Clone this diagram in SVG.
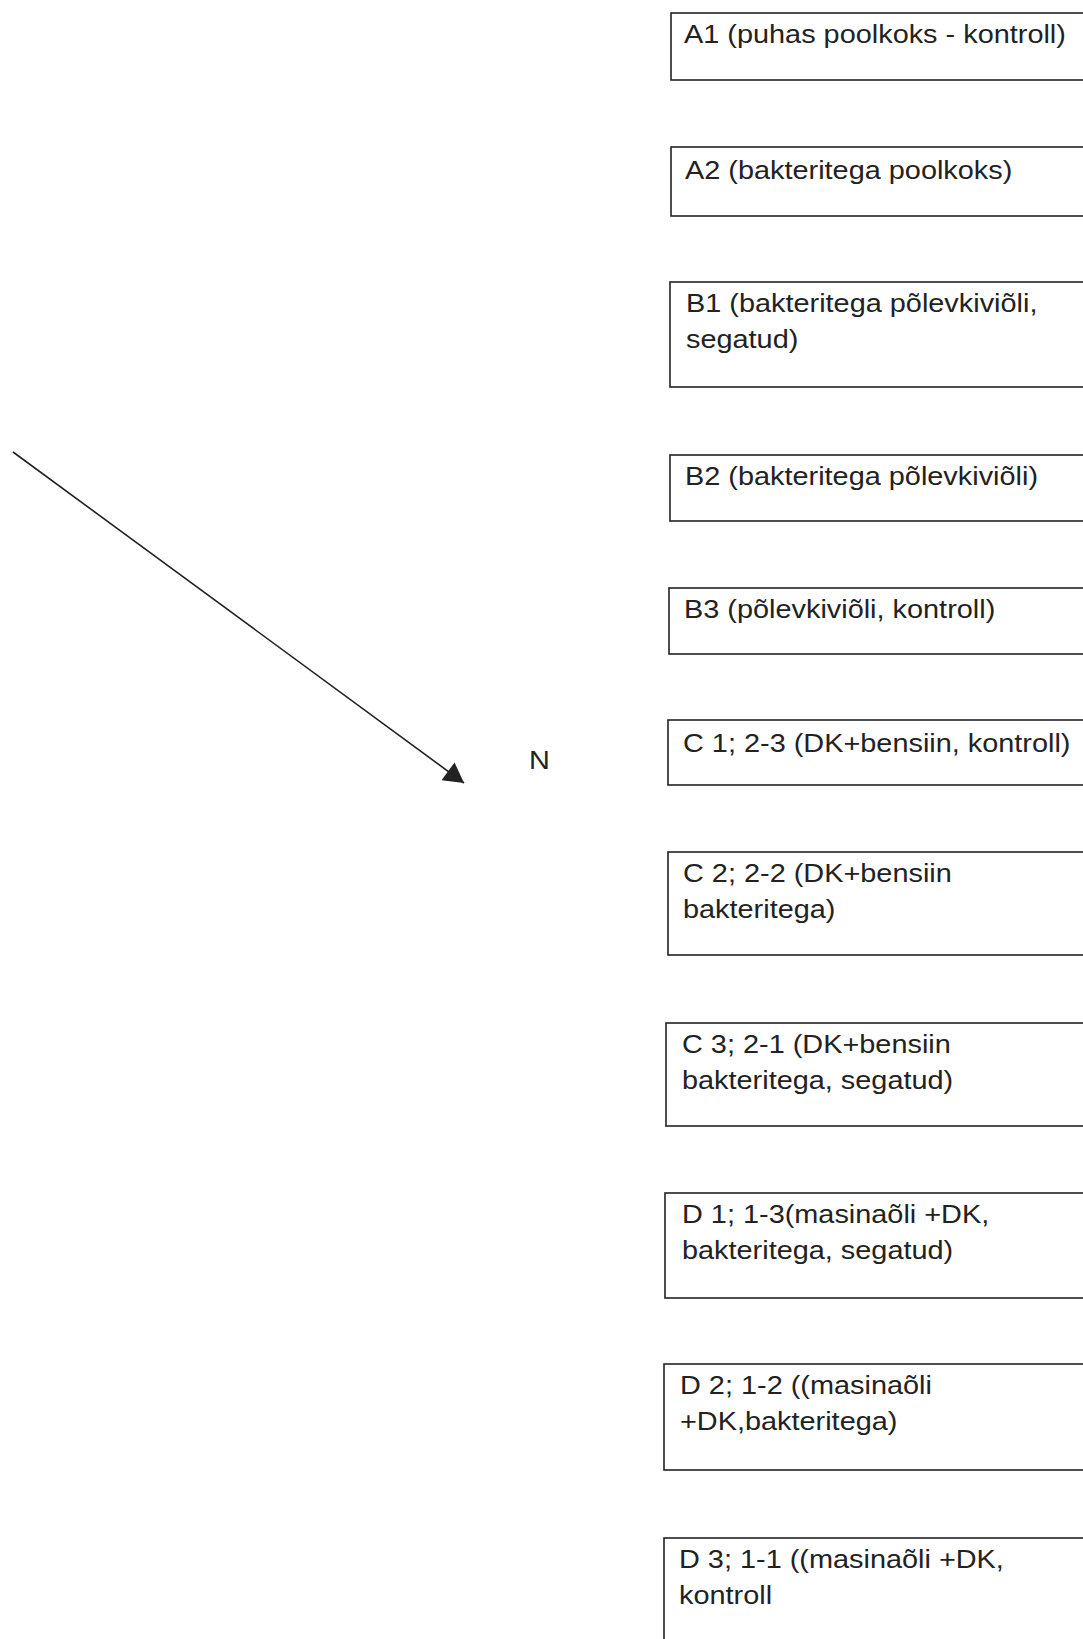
<svg xmlns="http://www.w3.org/2000/svg" width="1083" height="1639" viewBox="0 0 1083 1639">
<style>
.box{fill:none;stroke:#222;stroke-width:1.6}
.t{font-family:"Liberation Sans",Arial,sans-serif;font-size:25px;fill:#222}
.conn{stroke:#222;stroke-width:1.6;fill:none}
</style>
<defs>
<marker id="ah" markerUnits="userSpaceOnUse" markerWidth="22" markerHeight="22" viewBox="0 0 18 20" refX="18" refY="10" orient="auto">
<path d="M0,0 L18,10 L0,20 Z" fill="#222"/>
</marker>
</defs>
<rect width="1083" height="1639" fill="#fff"/>
<g id="connectors">
<path class="conn" d="M13,452 L464,783" marker-end="url(#ah)"/>
</g>
<g id="label-N"><text class="t" transform="translate(529,769) scale(1.155,1)">N</text></g>
<g id="A1"><rect class="box" x="671" y="13" width="430" height="67"/><text class="t" transform="translate(684,43) scale(1.155,1)">A1 (puhas poolkoks - kontroll)</text></g>
<g id="A2"><rect class="box" x="671" y="147" width="430" height="69"/><text class="t" transform="translate(685,179) scale(1.155,1)">A2 (bakteritega poolkoks)</text></g>
<g id="B1"><rect class="box" x="670" y="282" width="430" height="105"/><text class="t" transform="translate(686,312) scale(1.155,1)">B1 (bakteritega põlevkiviõli,</text><text class="t" transform="translate(686,348) scale(1.155,1)">segatud)</text></g>
<g id="B2"><rect class="box" x="670" y="455" width="430" height="66"/><text class="t" transform="translate(685,485) scale(1.155,1)">B2 (bakteritega põlevkiviõli)</text></g>
<g id="B3"><rect class="box" x="669" y="588" width="430" height="66"/><text class="t" transform="translate(684,618) scale(1.155,1)">B3 (põlevkiviõli, kontroll)</text></g>
<g id="C1"><rect class="box" x="668" y="720" width="430" height="65"/><text class="t" transform="translate(683,752) scale(1.155,1)">C 1; 2-3 (DK+bensiin, kontroll)</text></g>
<g id="C2"><rect class="box" x="668" y="852" width="430" height="103"/><text class="t" transform="translate(683,882) scale(1.155,1)">C 2; 2-2 (DK+bensiin</text><text class="t" transform="translate(683,918) scale(1.155,1)">bakteritega)</text></g>
<g id="C3"><rect class="box" x="666" y="1023" width="430" height="103"/><text class="t" transform="translate(682,1053) scale(1.155,1)">C 3; 2-1 (DK+bensiin</text><text class="t" transform="translate(682,1089) scale(1.155,1)">bakteritega, segatud)</text></g>
<g id="D1"><rect class="box" x="665" y="1193" width="430" height="105"/><text class="t" transform="translate(682,1223) scale(1.155,1)">D 1; 1-3(masinaõli +DK,</text><text class="t" transform="translate(682,1259) scale(1.155,1)">bakteritega, segatud)</text></g>
<g id="D2"><rect class="box" x="664" y="1364" width="430" height="106"/><text class="t" transform="translate(680,1394) scale(1.155,1)">D 2; 1-2 ((masinaõli</text><text class="t" transform="translate(680,1430) scale(1.155,1)">+DK,bakteritega)</text></g>
<g id="D3"><rect class="box" x="664" y="1538" width="430" height="130"/><text class="t" transform="translate(679,1568) scale(1.155,1)">D 3; 1-1 ((masinaõli +DK,</text><text class="t" transform="translate(679,1604) scale(1.155,1)">kontroll</text></g>
</svg>
